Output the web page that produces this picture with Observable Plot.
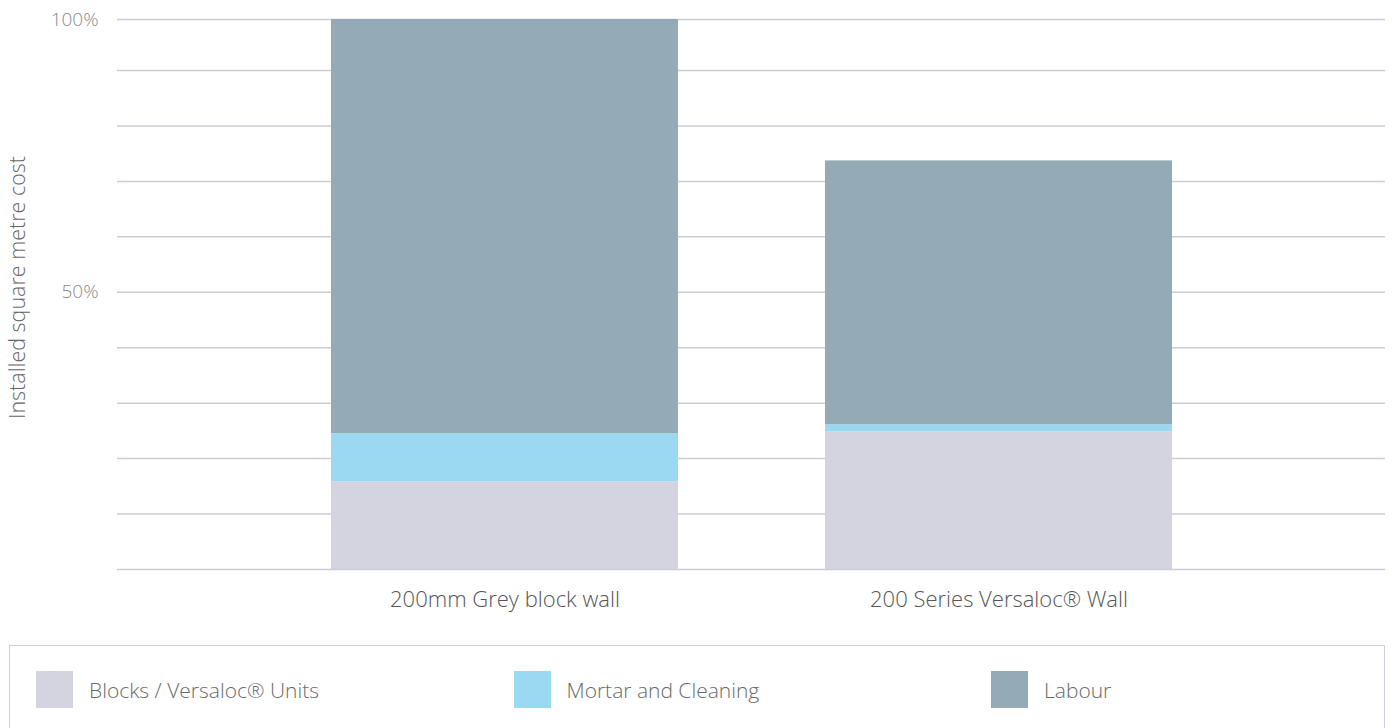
<!DOCTYPE html>
<html><head><meta charset="utf-8">
<script src="https://cdn.jsdelivr.net/npm/d3@7"></script>
<script src="https://cdn.jsdelivr.net/npm/@observablehq/plot@0.6"></script>
<style>
body{margin:0;background:#fff;font-family:"Open Sans",Lato,sans-serif;font-weight:300;}
#chart{position:relative;width:1393px;height:728px;overflow:hidden}
#legend{position:absolute;left:9px;top:645px;width:1376px;height:120px;border:1px solid #cfcede;box-sizing:border-box;}
.item{position:absolute;top:25px;display:flex;align-items:center;}
.sw{width:37px;height:37px;margin-right:16px}
.lab{font-size:21px;color:#6a6a6a;font-weight:300}
svg text{font-family:"Open Sans",Lato,sans-serif;font-weight:300}
</style></head>
<body><div id="chart"></div>
<script>
const categories = ["200mm Grey block wall", "200 Series Versaloc® Wall"];
const components = ["Blocks / Versaloc® Units", "Mortar and Cleaning", "Labour"];
const blocks = [15.8, 24.8];
const mortar = [8.7, 1.3];
const labour = [74.7, 47.6];
const colors = ["#d4d4e0", "#9ad9f1", "#94aab7"];
const gridTicks = [0, 10, 20, 30, 40, 50, 60, 70, 80, 90];
const yTickLabels = ["100%", "50%"];
const yLabel = "Installed square metre cost";

const series = [blocks, mortar, labour];
const rows = [];
categories.forEach((c, i) => components.forEach((k, j) => rows.push({category: c, component: k, value: series[j][i]})));
const totals = categories.map((c, i) => blocks[i] + mortar[i] + labour[i]);
const yMax = d3.max(totals);
const yTickValues = [yMax, 50];
const labelOf = new Map(yTickValues.map((v, i) => [v, yTickLabels[i]]));

const plot = Plot.plot({
  width: 1393, height: 625,
  marginTop: 19, marginBottom: 56, marginLeft: 117, marginRight: 8,
  x: {domain: categories, paddingInner: 0.2976, paddingOuter: 0.432, axis: null, label: null},
  y: {domain: [0, yMax], axis: null, label: null},
  color: {domain: components, range: colors},
  marks: [
    Plot.ruleY(gridTicks.concat([yMax]), {stroke: "#cccbd9", strokeWidth: 1.5}),
    Plot.barY(rows, {x: "category", y: "value", fill: "component"}),
    Plot.axisX({tickSize: 0, tickPadding: 22, fontSize: 22, color: "#555", label: null}),
    Plot.axisY(yTickValues, {tickSize: 0, tickPadding: 19, fontSize: 19, color: "#8a8a8a", label: null, tickFormat: d => labelOf.get(d)}),
    Plot.text([yLabel], {text: d => d, frameAnchor: "left", textAnchor: "middle", rotate: -90, dx: -99, dy: -7, fontSize: 21.5, fill: "#666"})
  ]
});
const chart = document.getElementById("chart");
chart.appendChild(plot);

const legend = document.createElement("div");
legend.id = "legend";
components.forEach((k, i) => {
  const item = document.createElement("div");
  item.className = "item";
  item.style.left = (26 + i * 477.5) + "px";
  const sw = document.createElement("div");
  sw.className = "sw";
  sw.style.background = colors[i];
  const lab = document.createElement("span");
  lab.className = "lab";
  lab.textContent = k;
  item.appendChild(sw); item.appendChild(lab);
  legend.appendChild(item);
});
chart.appendChild(legend);
</script></body></html>
